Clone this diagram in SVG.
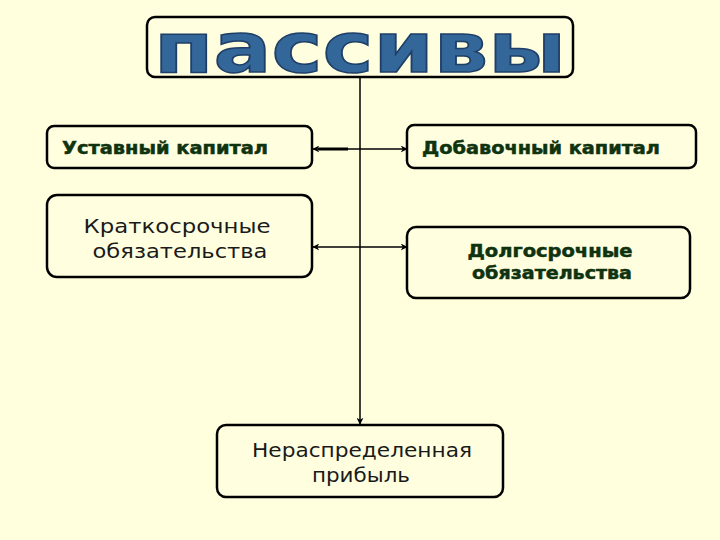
<svg xmlns="http://www.w3.org/2000/svg" width="720" height="540" viewBox="0 0 720 540">
<defs>
<style>
.box{fill:#FFFFE0;stroke:#000;stroke-width:2.5}
.bold{font-family:"DejaVu Sans",Verdana,sans-serif;font-weight:bold;fill:#0f330f;stroke:#0f330f;stroke-width:0.5;font-size:17px}
.reg{font-family:"DejaVu Sans",Verdana,sans-serif;fill:#1a1a1a;font-size:20px}
.con{stroke:#000;stroke-width:1.5;fill:none}
</style>
<marker id="ah" viewBox="0 0 10 10" refX="9" refY="5" markerWidth="7" markerHeight="7" orient="auto-start-reverse" markerUnits="userSpaceOnUse">
<path d="M0,0 L10,5 L0,10 L3,5 Z" fill="#000"/>
</marker>
</defs>
<rect width="720" height="540" fill="#FFFFDD"/>
<g id="connectors">
<line class="con" x1="360" y1="78" x2="360" y2="424" marker-end="url(#ah)"/>
<line class="con" x1="313" y1="149" x2="407" y2="149" marker-start="url(#ah)" marker-end="url(#ah)"/>
<line x1="318" y1="149" x2="348" y2="149" stroke="#000" stroke-width="3"/>
<line class="con" x1="313" y1="247" x2="407" y2="247" marker-start="url(#ah)" marker-end="url(#ah)"/>
</g>
<g id="title">
<rect x="147" y="17" width="426" height="60" rx="8" class="box" stroke-width="3"/>
<text x="154" y="72" textLength="412" lengthAdjust="spacingAndGlyphs" font-family="'DejaVu Sans',sans-serif" font-weight="bold" font-size="70" fill="#336699" stroke="#1f3f66" stroke-width="1.5">пассивы</text>
</g>
<g id="ustavny">
<rect x="47" y="126" width="265" height="42" rx="7" class="box"/>
<text x="62" y="154" class="bold" textLength="206" lengthAdjust="spacingAndGlyphs">Уставный капитал</text>
</g>
<g id="dobavochny">
<rect x="407" y="125" width="289" height="43" rx="7" class="box"/>
<text x="422" y="154" class="bold" textLength="238" lengthAdjust="spacingAndGlyphs">Добавочный капитал</text>
</g>
<g id="kratkosrochnye">
<rect x="47" y="195" width="265" height="82" rx="10" class="box"/>
<text x="177" y="233" text-anchor="middle" class="reg" textLength="187" lengthAdjust="spacingAndGlyphs">Краткосрочные</text>
<text x="180" y="258" text-anchor="middle" class="reg" textLength="175" lengthAdjust="spacingAndGlyphs">обязательства</text>
</g>
<g id="dolgosrochnye">
<rect x="407" y="227" width="283" height="71" rx="9" class="box"/>
<text x="550" y="257" text-anchor="middle" class="bold" textLength="165" lengthAdjust="spacingAndGlyphs">Долгосрочные</text>
<text x="552" y="279" text-anchor="middle" class="bold" textLength="160" lengthAdjust="spacingAndGlyphs">обязательства</text>
</g>
<g id="neraspredelennaya">
<rect x="217" y="425" width="286" height="72" rx="9" class="box"/>
<text x="362" y="457" text-anchor="middle" class="reg" fill="#0f2a0f" textLength="220" lengthAdjust="spacingAndGlyphs">Нераспределенная</text>
<text x="361" y="482" text-anchor="middle" class="reg" fill="#0f2a0f" textLength="98" lengthAdjust="spacingAndGlyphs">прибыль</text>
</g>
</svg>
